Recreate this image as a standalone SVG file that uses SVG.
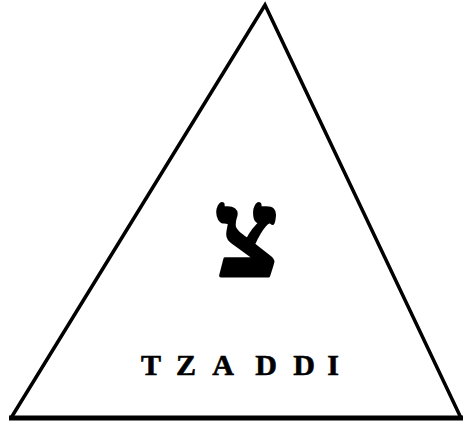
<svg xmlns="http://www.w3.org/2000/svg" width="468" height="425" viewBox="0 0 468 425">
<style>
.edge{fill:none;stroke:#000;stroke-linejoin:miter;stroke-linecap:butt}
.letter{font-family:"Liberation Serif","DejaVu Sans",serif;font-weight:bold;font-size:122px;fill:#000;stroke:#000;stroke-width:3.5px;stroke-linejoin:round}
.label{font-family:"Liberation Serif","DejaVu Serif",serif;font-weight:bold;font-size:30px;fill:#000;stroke:#000;stroke-width:0.6px}
</style>
<rect width="468" height="425" fill="#fff"/>
<g id="connectors">
<path class="edge" d="M11,418 L265,5 L461,418" stroke-width="3.5"/>
<path class="edge" d="M9,418 L463,418" stroke-width="5"/>
</g>
<g id="tzaddi-letter">
<text class="letter" x="247" y="276" text-anchor="middle">צ</text>
</g>
<g id="label">
<text class="label" x="151 186 223 266 304 333" y="375" text-anchor="middle">TZADDI</text>
</g>
</svg>
